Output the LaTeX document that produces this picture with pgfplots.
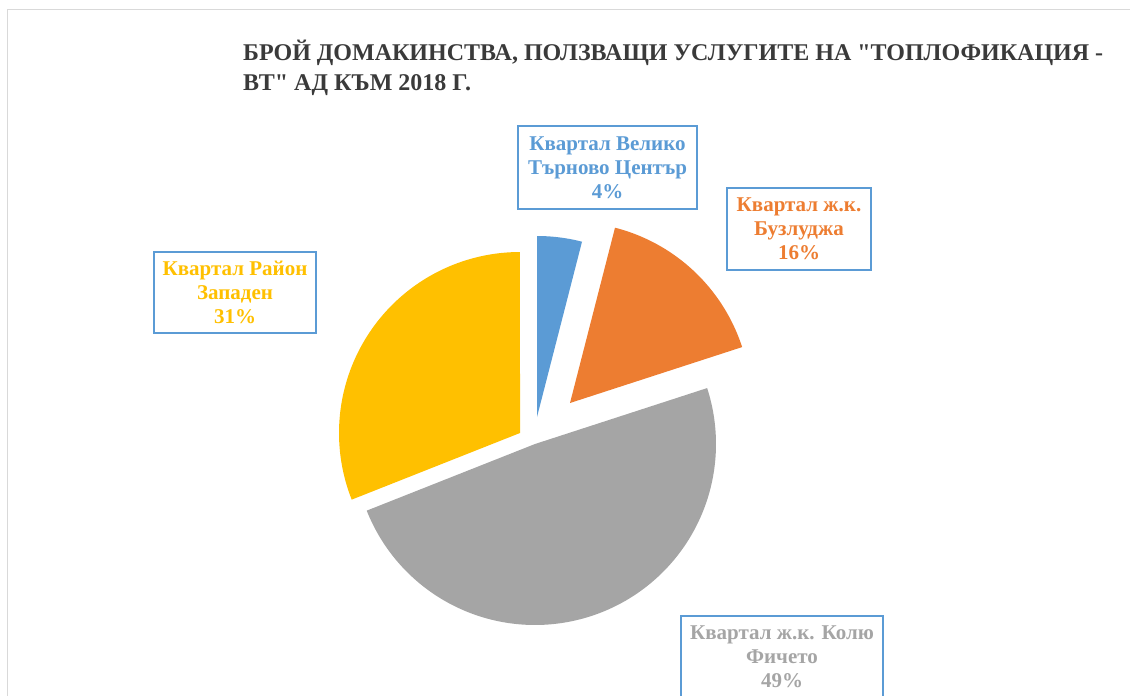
\documentclass[border=0pt]{standalone}
\usepackage{pgfplots}
\pgfplotsset{compat=1.18}
\usepackage{fontspec}
\setmainfont{Liberation Serif}[Ligatures=TeXOff]
\definecolor{cBlue}{HTML}{5B9BD5}
\definecolor{cOrange}{HTML}{ED7D31}
\definecolor{cGray}{HTML}{A5A5A5}
\definecolor{cYellow}{HTML}{FFC000}
\definecolor{cBorder}{HTML}{D9D9D9}
\definecolor{cTitle}{HTML}{3A3A3A}
\begin{document}
\begin{tikzpicture}
% shares (percent) of the four districts
\def\vA{4}\def\vB{16}\def\vC{49}\def\vD{31}
\def\R{181}
\pgfmathsetmacro\aA{3.6*\vA}
\pgfmathsetmacro\aB{\aA+3.6*\vB}
\pgfmathsetmacro\aC{\aB+3.6*\vC}
\pgfmathsetmacro\aD{\aC+3.6*\vD}
\tikzset{lab/.style={draw=cBlue, line width=1.5pt, fill=white, align=center,
  inner sep=0pt, font=\fontsize{21}{24}\selectfont\bfseries}}
\begin{axis}[
  width=1130pt, height=696pt, scale only axis,
  xmin=0, xmax=1130, ymin=0, ymax=696, y dir=reverse,
  hide axis, clip=false,
]
% chart area border
\addplot[draw=cBorder, line width=1.5pt] coordinates {(7.5,696) (7.5,9.5) (1130,9.5)};
% pie slices (clockwise from 12 o'clock), each exploded
\addplot[fill=cBlue, draw=none, domain=0:\aA, samples=30, variable=\t]
  ({537+\R*sin(\t)},{417-\R*cos(\t)}) -- (axis cs:537,417) -- cycle;
\addplot[fill=cOrange, draw=none, domain=\aA:\aB, samples=60, variable=\t]
  ({570+\R*sin(\t)},{403-\R*cos(\t)}) -- (axis cs:570,403) -- cycle;
\addplot[fill=cGray, draw=none, domain=\aB:\aC, samples=150, variable=\t]
  ({535+\R*sin(\t)},{444-\R*cos(\t)}) -- (axis cs:535,444) -- cycle;
\addplot[fill=cYellow, draw=none, domain=\aC:\aD, samples=100, variable=\t]
  ({520+\R*sin(\t)},{433-\R*cos(\t)}) -- (axis cs:520,433) -- cycle;
% title
\node[anchor=base west, text=cTitle, font=\fontsize{24}{30}\selectfont\bfseries, inner sep=0pt]
  at (axis cs:243,60) {БРОЙ ДОМАКИНСТВА, ПОЛЗВАЩИ УСЛУГИТЕ НА "ТОПЛОФИКАЦИЯ -};
\node[anchor=base west, text=cTitle, font=\fontsize{24}{30}\selectfont\bfseries, inner sep=0pt]
  at (axis cs:243,90) {ВТ" АД КЪМ 2018 Г.};
% data labels
\node[lab, text=cBlue, minimum width=179pt, minimum height=83pt] at (axis cs:607.5,167.5)
  {Квартал Велико\\Търново Център\\\vA\%};
\node[lab, text=cOrange, minimum width=144pt, minimum height=82pt] at (axis cs:799,229)
  {Квартал ж.к.\\Бузлуджа\\\vB\%};
\node[lab, text=cYellow, minimum width=162pt, minimum height=81pt] at (axis cs:235,292.5)
  {Квартал Район\\Западен\\\vD\%};
\node[lab, text=cGray, minimum width=202pt, minimum height=82pt] at (axis cs:782,657)
  {Квартал ж.к. Колю\\Фичето\\\vC\%};
\end{axis}
\pgfresetboundingbox
\path[use as bounding box] (current axis.south west) rectangle (current axis.north east);
\end{tikzpicture}
\end{document}
